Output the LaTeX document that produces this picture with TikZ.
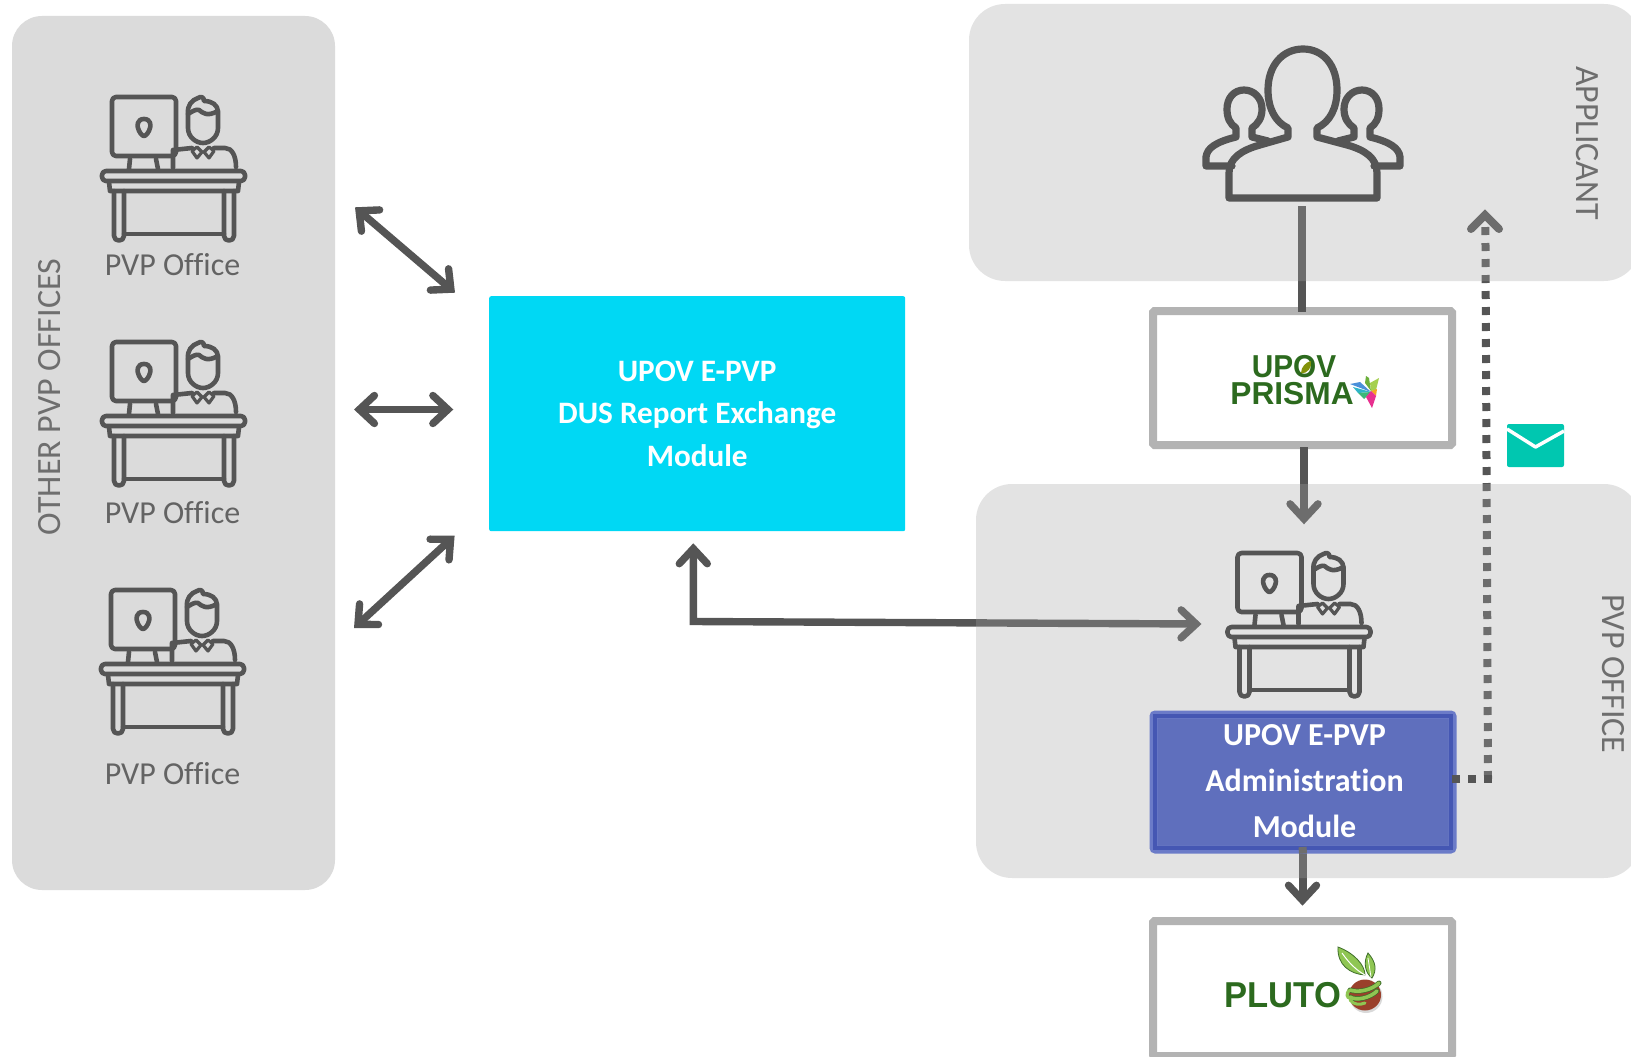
\documentclass[tikz,border=0pt]{standalone}
\usepackage{fontspec}
\setmainfont[Ligatures=NoCommon]{Carlito}
\newfontfamily\logofont{Liberation Sans}
\usetikzlibrary{arrows.meta}
\definecolor{ink}{HTML}{555555}
\definecolor{panelL}{HTML}{DBDBDB}
\definecolor{veil}{HTML}{A5A5A5}
\definecolor{cyanbox}{HTML}{00D8F4}
\definecolor{adminfill}{HTML}{5F6FBD}
\definecolor{adminline}{HTML}{4557B3}
\definecolor{adminedge}{HTML}{6B7BC8}
\definecolor{framegrey}{HTML}{B3B3B3}
\definecolor{logogreen}{HTML}{2C6A1E}
\definecolor{mailgreen}{HTML}{00C7B0}
\definecolor{seedbrown}{HTML}{9A402B}
\definecolor{leafgreen}{HTML}{8FC653}
\definecolor{leafdark}{HTML}{3E6E2A}
\definecolor{wingblue}{HTML}{4A90D9}
\definecolor{wingteal}{HTML}{2FB5C8}
\definecolor{wingsea}{HTML}{3CB878}
\definecolor{winggrass}{HTML}{6BAF3A}
\definecolor{winglime}{HTML}{A5D050}
\definecolor{wingamber}{HTML}{F5A623}
\definecolor{wingpink}{HTML}{E8308F}
\tikzset{
  panelveil/.style={fill=veil,fill opacity=.31,rounded corners=36pt,draw=none},
  frame/.style={draw=framegrey,line width=8pt,fill=white,rounded corners=1.5pt,minimum width=299pt,inner sep=0pt,anchor=north west},
  barb/.tip={Straight Barb[length=15pt,width=28pt,line width=7.4pt,line cap=round,line join=miter]},
  flow/.style={draw=ink,line width=8pt,-barb,line join=miter},
  flowboth/.style={draw=ink,line width=7.4pt,barb-barb,line join=miter},
  dotline/.style={draw=ink,line width=8pt,dash pattern=on 8pt off 8pt},
  glyph/.style={draw=ink,line width=4.6pt,line cap=round,line join=round},
  boxtext/.style={text=white,font=\fontsize{31.2}{42.5}\selectfont\bfseries,align=center},
  greytext/.style={text=ink!92!white,font=\fontsize{32}{36}\selectfont},
  sidetext/.style={text=ink!85!white,font=\fontsize{34}{38}\selectfont}
}
\newcommand{\officeicon}[2]{%
 \begin{scope}[shift={(#1,#2)},glyph]
  \draw[rounded corners=4pt] (32,17) rectangle (96,76);
  \draw (64,39) .. controls (57,39) and (57,46) .. (58,48) .. controls (59,52) and (62,56) .. (64,56) .. controls (66,56) and (69,52) .. (70,48) .. controls (71,46) and (71,39) .. (64,39) -- cycle;
  \draw (50,79) -- (49,89) (76,79) -- (78,89);
  \draw[rounded corners=4pt] (22,91) rectangle (165,101);
  \draw (29,102) -- (30,111) -- (158,111) -- (159,102);
  \draw (34,111) -- (34,156) .. controls (34,162) and (44,162) .. (44,156) -- (44,111);
  \draw (144,111) -- (144,156) .. controls (144,162) and (154,162) .. (154,156) -- (154,111);
  \draw (44,154) -- (144,154);
  \draw (108,34) .. controls (107,25) and (112,20) .. (118,18) .. controls (121,16) and (124,17) .. (124,21) .. controls (132,21) and (138,25) .. (138,32) -- (138,48) .. controls (138,57) and (130,63) .. (123,63) .. controls (116,63) and (108,57) .. (108,48) -- cycle;
  \draw (108,34) .. controls (113,31) and (116,29) .. (119,30) .. controls (123,33) and (127,37) .. (138,31);
  \draw (93,88) -- (93,70) -- (112,68) (134,68) -- (145,68) .. controls (152,68) and (156,76) .. (156,87);
  \draw[line width=3.2pt] (112,71) -- (117,67) -- (122,72) -- (117,78) -- cycle (124,72) -- (129,67) -- (134,71) -- (129,78) -- cycle;
 \end{scope}}
\begin{document}
\begin{tikzpicture}[x=1pt,y=-1pt]
\useasboundingbox (0,0) rectangle (1631,1057);
% left panel
\fill[panelL,rounded corners=30pt] (12,16) rectangle (335,890);
% frames under the connectors
\node[frame,minimum height=134pt] (prisma) at (1149,307) {};
\node[frame,minimum height=135pt] (pluto) at (1149,917) {};
% cyan box
\node[fill=cyanbox,rounded corners=2pt,minimum width=416pt,minimum height=235pt,inner sep=0pt,anchor=north west] (dus) at (489,296) {};
% connectors
\coordinate (a1s) at (355,207.3); \coordinate (a1e) at (455,292.7);
\coordinate (a2s) at (354,409.5); \coordinate (a2e) at (453.3,409.5);
\coordinate (a3s) at (354,628); \coordinate (a3e) at (454.6,535.7);
\draw[flowboth] (a1s) -- (a1e);
\draw[flowboth] (a2s) -- (a2e);
\draw[flowboth] (a3s) -- (a3e);
\coordinate (elbowup) at (693.3,543.3); \coordinate (elbow) at (693.3,621.5); \coordinate (deskin) at (1201.5,624);
\draw[flowboth] (elbowup) -- (elbow) -- (deskin);
\coordinate (groupbottom) at (1302,206); \coordinate (prismatop) at (1302,312);
\draw[draw=ink,line width=8pt] (groupbottom) -- (prismatop);
\coordinate (prismaout) at (1304,447); \coordinate (deskabove) at (1304,524.3);
\draw[flow] (prismaout) -- (deskabove);
\coordinate (adminout) at (1302.5,847); \coordinate (plutoin) at (1302.5,905.7);
\draw[flow] (adminout) -- (plutoin);
\coordinate (dotc) at (1488,779); \coordinate (dotd) at (1485.4,227);
\draw[dotline] (dotc) -- (dotd);
\coordinate (mailhead) at (1485,215); \coordinate (maill) at (1471,229); \coordinate (mailr) at (1499,229);
\draw[draw=ink,line width=8pt,line cap=round,line join=miter] (maill) -- (mailhead) -- (mailr);
% right panels, translucent over the connectors
\fill[panelveil] (969,4) rectangle (1640,281);
\fill[panelveil] (976,484) rectangle (1640,878);
% side labels
\node[sidetext,rotate=90] (othertxt) at (50,397) {OTHER PVP OFFICES};
\node[sidetext,rotate=-90] (applicanttxt) at (1587,143) {APPLICANT};
\node[sidetext,rotate=-90] (pvpofficetxt) at (1613,674) {PVP OFFICE};
% icons
\officeicon{80}{80}
\officeicon{80}{325}
\officeicon{79}{573}
\officeicon{1205.5}{536}
\node[greytext] (off1) at (172.5,265) {PVP Office};
\node[greytext] (off2) at (172.5,513) {PVP Office};
\node[greytext] (off3) at (172.5,774) {PVP Office};
% applicant group
\begin{scope}[shift={(1180,30)},draw=ink,line width=7.2pt,line join=round,line cap=round]
 \draw (49,168) -- (197,168) -- (197,143) .. controls (197,128) and (185,120) .. (167,115) -- (137,107) -- (137,98) .. controls (150,92) and (157,78) .. (157,60) .. controls (157,35) and (143,19) .. (123,19) .. controls (103,19) and (88,35) .. (88,60) .. controls (88,78) and (95,92) .. (108,98) -- (108,107) -- (80,115) .. controls (62,120) and (49,128) .. (49,143) -- cycle;
 \draw (52,136) -- (26,136) -- (26,127) .. controls (27,118) and (36,112) .. (56,107) -- (56,98) .. controls (50,94) and (47,88) .. (47,79) .. controls (47,68) and (54,60) .. (64,60) .. controls (74,60) and (82,68) .. (82,79) .. controls (82,88) and (78,94) .. (72,98) -- (72,107) -- (88,111);
 \draw (194,136) -- (220,136) -- (220,127) .. controls (219,118) and (210,112) .. (190,107) -- (190,98) .. controls (196,94) and (199,88) .. (199,79) .. controls (199,68) and (192,60) .. (182,60) .. controls (172,60) and (164,68) .. (164,79) .. controls (164,88) and (168,94) .. (174,98) -- (174,107) -- (158,111);
\end{scope}
% box texts
\node[boxtext] (dustxt) at (dus.center) {UPOV E-PVP\\DUS Report Exchange\\Module};
% admin box
\node[draw=adminedge,fill=adminfill,line width=8pt,rounded corners=2pt,minimum width=299pt,minimum height=135pt,inner sep=0pt,anchor=north west] (admin) at (1149.5,710.5) {};
\draw[draw=adminline,line width=4.6pt] (1155,716) rectangle (1451,848);
\draw[draw=ink!85!white,line width=8pt] (adminout) -- (admin.south);
\node[boxtext,font=\fontsize{32}{46}\selectfont\bfseries] (admintxt) at (1304.5,781) {UPOV E-PVP\\Administration\\Module};
\coordinate (dota) at (1452,778.7); \coordinate (dotb) at (1492,778.7);
\draw[dotline] (dota) -- (dotb);
% PRISMA logo
\node[text=logogreen,font=\logofont\bfseries\fontsize{31.7}{27.5}\selectfont,inner sep=0pt,align=center] (prismatxt) at (1292,380.3) {\hspace*{4pt}\scalebox{.94}[1]{UPOV}\\PRISMA};
\fill[olive!80!green] (1301,373) .. controls (1301,367) and (1306,362) .. (1311,361) .. controls (1312,367) and (1308,374) .. (1301,373) -- cycle;
\fill[wingblue] (1350,384) -- (1360,382) -- (1371,392) -- cycle;
\fill[wingteal] (1353,387) -- (1371,392) -- (1358,393) -- cycle;
\fill[wingsea] (1358,393) -- (1371,392) -- (1364,399) -- cycle;
\fill[winggrass] (1366,376) -- (1369,378) -- (1371,391) -- (1365,383) -- cycle;
\fill[winglime] (1379,378) -- (1376,390) -- (1371,391) -- (1370,383) -- cycle;
\fill[wingamber] (1371,391) -- (1377,389) -- (1376,396) -- cycle;
\fill[wingpink] (1371,391) -- (1376,396) -- (1372,408) -- (1366,397) -- cycle;
% PLUTO logo
\node[text=logogreen,font=\logofont\bfseries\fontsize{36}{36}\selectfont,inner sep=0pt,xscale=.96] (plutotxt) at (1283,995) {PLUTO};
\fill[black,fill opacity=.15] (1366,996.5) ellipse (16.5pt and 16.5pt);
\fill[seedbrown] (1365,995) ellipse (16pt and 15.5pt);
\draw[leafdark,line width=5pt,line cap=round] (1350,990) .. controls (1358,993) and (1372,990) .. (1379,983);
\draw[leafdark,line width=5pt,line cap=round] (1350,997) .. controls (1356,1001) and (1370,998) .. (1377,991);
\draw[leafgreen,line width=3.6pt,line cap=round] (1350,990) .. controls (1358,993) and (1372,990) .. (1379,983);
\draw[leafgreen,line width=3.6pt,line cap=round] (1350,997) .. controls (1356,1001) and (1370,998) .. (1377,991);
\draw[leafgreen,line width=3.2pt] (1349,990) .. controls (1346,994) and (1347,998) .. (1350,998);
\draw[leafgreen,line width=3pt,line cap=round] (1350,1000) .. controls (1354,1005) and (1360,1005) .. (1365,1003);
\fill[leafgreen,draw=leafdark,line width=.8pt] (1338,947) .. controls (1354,953) and (1365,965) .. (1365,975) .. controls (1350,974) and (1337,965) .. (1338,947) -- cycle;
\draw[white,line width=1pt] (1342,953) .. controls (1349,963) and (1356,970) .. (1365,975);
\fill[leafgreen,draw=leafdark,line width=.8pt] (1368,953) .. controls (1376,962) and (1377,970) .. (1372,978) .. controls (1365,973) and (1363,962) .. (1368,953) -- cycle;
\draw[white,line width=.8pt] (1368,958) -- (1371,977);
% envelope
\fill[mailgreen,rounded corners=2pt] (1507,424) rectangle (1564,467);
\draw[white,line width=3.5pt,line join=round] (1507,429) -- (1535.5,447) -- (1564,431);
\end{tikzpicture}
\end{document}
